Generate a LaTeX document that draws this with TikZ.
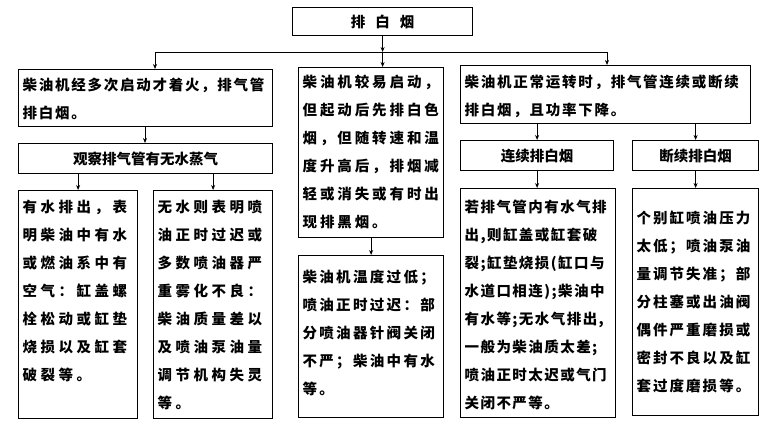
\documentclass[tikz,border=0pt]{standalone}
\usepackage{fontspec}
\newfontfamily\cjk{Noto Sans CJK SC}
\usetikzlibrary{arrows.meta}

% text of a box: width, height, top gap, letter spacing, lines
\newcommand\boxtext[5]{\parbox[c][#2pt][t]{#1pt}{\cjk\bfseries\fontsize{14.5}{28}\selectfont
  \addfontfeature{LetterSpace=#4}\vspace*{#3pt}\raggedright\leftskip=4pt #5}}

\tikzset{
  box/.style={draw, line width=1.2pt, inner sep=0pt, anchor=north west},
  title/.style={font=\cjk\bfseries\fontsize{14.5}{18}\selectfont},
  link/.style={line width=0.8pt, -{Stealth[length=5pt,width=4pt]}}
}

\begin{document}
\begin{tikzpicture}[x=1pt,y=-1pt]
  \useasboundingbox (0,0) rectangle (768,423);

  % heading and the three cases
  \node[box, title, minimum width=180pt, minimum height=28pt] (top) at (292,7) {排\hspace{10pt}白\hspace{10pt}烟};
  \node[box] (start) at (18,69) {\boxtext{254}{57}{8.5}{12}{柴油机经多次启动才着火，排气管\\排白烟。}};
  \node[box] (easy) at (298,67) {\boxtext{145}{170}{7.5}{20}{柴油机较易启动，\\但起动后先排白色\\烟，但随转速和温\\度升高后，排烟减\\轻或消失或有时出\\现排黑烟。}};
  \node[box] (normal) at (460,65) {\boxtext{290}{58}{9.5}{12}{柴油机正常运转时，排气管连续或断续\\排白烟，且功率下降。}};

  % second row
  \node[box, title, minimum width=254pt, minimum height=30pt] (observe) at (18,143) {观察排气管有无水蒸气};
  \node[box, title, minimum width=153pt, minimum height=30pt] (cont) at (460,140) {连续排白烟};
  \node[box, title, minimum width=126pt, minimum height=30pt] (inter) at (632,140) {断续排白烟};

  % causes
  \node[box] (water) at (18,190) {\boxtext{119}{228}{9.5}{24}{有水排出，表\\明柴油中有水\\或燃油系中有\\空气：缸盖螺\\栓松动或缸垫\\烧损以及缸套\\破裂等。}};
  \node[box] (nowater) at (153,190) {\boxtext{119}{228}{9.5}{24}{无水则表明喷\\油正时过迟或\\多数喷油器严\\重雾化不良：\\柴油质量差以\\及喷油泵油量\\调节机构失灵\\等。}};
  \node[box] (cold) at (298,255) {\boxtext{145}{162}{14.5}{16}{柴油机温度过低；\\喷油正时过迟：部\\分喷油器针阀关闭\\不严；柴油中有水\\等。}};
  \node[box] (contcause) at (460,188) {\boxtext{155}{229}{11.5}{10}{若排气管内有水气排\\出,则缸盖或缸套破\\裂;缸垫烧损(缸口与\\水道口相连);柴油中\\有水等;无水气排出,\\一般为柴油质太差;\\喷油正时太迟或气门\\关闭不严等。}};
  \node[box] (intercause) at (632,188) {\boxtext{126}{227}{22.5}{14}{个别缸喷油压力\\太低；喷油泵油\\量调节失准；部\\分柱塞或出油阀\\偶件严重磨损或\\密封不良以及缸\\套过度磨损等。}};

  % bus under the heading
  \coordinate (bus) at (top.south |- 0,52);
  \coordinate (busL) at (155,52);
  \coordinate (busR) at (607,52);
  \draw[line width=0.8pt] (busL) -- (busR);
  \draw[link] (top.south) -- (bus);
  \draw[link] (bus) -- (bus |- easy.north);
  \draw[link] (busL) -- (busL |- start.north);
  \draw[link] (busR) -- (busR |- normal.north);

  % links between the rows
  \draw[link] (start.south -| 145,0) -- (observe.north -| 145,0);
  \draw[link] (water |- observe.south) -- (water.north);
  \draw[link] (nowater |- observe.south) -- (nowater.north);
  \draw[link] (easy.south) -- (cold.north);
  \draw[link] (cont |- normal.south) -- (cont.north);
  \draw[link] (inter |- normal.south) -- (inter.north);
  \draw[link] (cont.south) -- (contcause.north -| cont.south);
  \draw[link] (inter.south) -- (intercause.north -| inter.south);
\end{tikzpicture}
\end{document}
